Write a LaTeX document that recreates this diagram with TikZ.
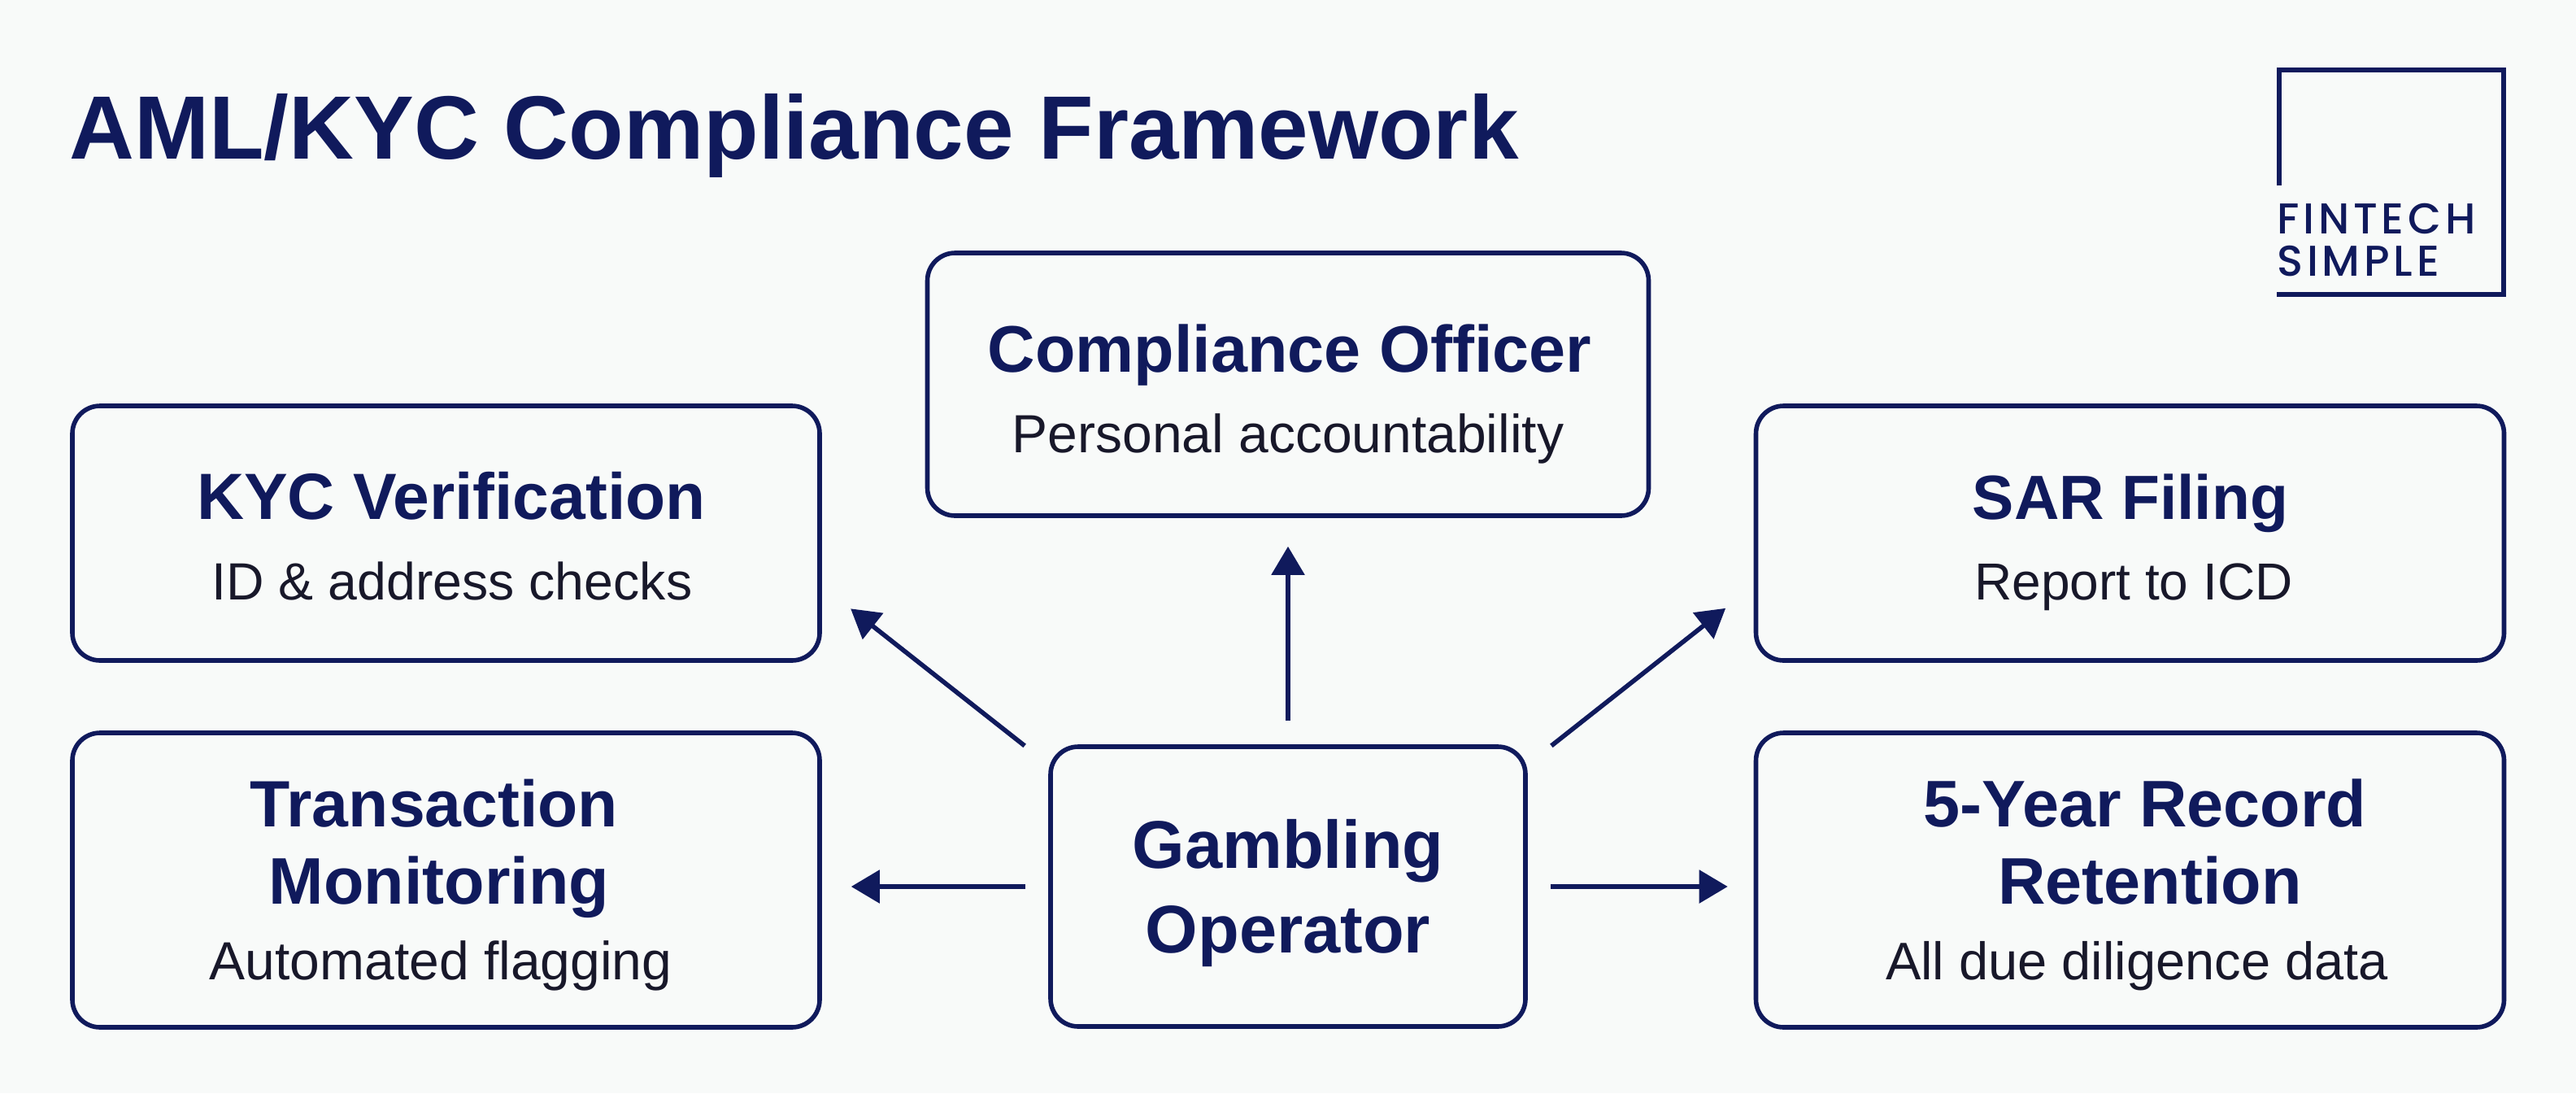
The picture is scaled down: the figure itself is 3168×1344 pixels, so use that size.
\documentclass[tikz,border=0pt]{standalone}
\usepackage{fontspec}
\setmainfont{Liberation Sans}
\newfontfamily\logofont[LetterSpace=9]{Poppins Medium}
\usetikzlibrary{arrows.meta,calc}
\definecolor{navy}{HTML}{101A5C}
\definecolor{subink}{HTML}{18182A}
\definecolor{paper}{HTML}{F8FAF9}
\tikzset{
  panel/.style={draw=navy,line width=2.8pt,rounded corners=17pt,fill=none,inner sep=0pt},
  flow/.style={draw=navy,line width=2.8pt,-{Triangle[length=17.5pt,width=20pt]}},
  lab/.style={inner sep=0pt,anchor=base,align=center,text=navy,font=\fontsize{32}{47.5}\selectfont},
}
\newcommand{\ttl}[2][40.5]{{\fontsize{#1}{47.5}\selectfont\bfseries #2}}
\newcommand{\sbt}[2][32.5]{{\color{subink}\fontsize{#1}{47.5}\selectfont #2}}
\newcommand{\nudge}[2]{\hspace*{#1pt}#2}
\begin{document}
\begin{tikzpicture}[x=0.5pt,y=-0.5pt]
\useasboundingbox[fill=paper] (0,0) rectangle (3168,1344);
\node[inner sep=0pt,anchor=base west,text=navy] (title) at (85,195) {\fontsize{55.3}{60}\selectfont\bfseries AML/KYC Compliance Framework};

\node[panel,minimum width=443.5pt,minimum height=161.5pt] (comp) at (1584,472.5) {};
\node[panel,minimum width=459.5pt,minimum height=156.5pt] (kyc) at (548.5,655.5) {};
\node[panel,minimum width=460pt,minimum height=156.5pt] (sar) at (2619.5,655.5) {};
\node[panel,minimum width=459.5pt,minimum height=181pt] (txn) at (548.5,1082) {};
\node[panel,minimum width=460pt,minimum height=181pt] (ret) at (2619.5,1082) {};
\node[panel,minimum width=292pt,minimum height=172pt] (op) at (1584,1090) {};

\node[lab] (compt) at (1584,556) {\nudge{2}{\ttl{Compliance Officer}}\\[2pt]\sbt[33]{Personal accountability}};
\node[lab] (kyct) at (555,737) {\ttl[40.2]{KYC Verification}\\[2pt]\nudge{1}{\sbt[32.2]{ID \& address checks}}};
\node[lab] (sart) at (2620,737) {\ttl[38.4]{SAR Filing}\\[2pt]\nudge{4}{\sbt[32]{Report to ICD}}};
\node[lab] (txnt) at (537,1204) {\nudge{-3}{\ttl[40.3]{Transaction}}\\\nudge{3}{\ttl{Monitoring}}\\[-1pt]\nudge{5}{\sbt[33]{Automated flagging}}};
\node[lab] (rett) at (2635,1204) {\nudge{3}{\ttl{5-Year Record}}\\\nudge{9}{\ttl{Retention}}\\[-1pt]\nudge{-7}{\sbt{All due diligence data}}};
\node[lab] (opt) at (1584,1171) {\ttl[41.5]{Gambling}\\[4.5pt]\ttl[41.5]{Operator}};

\draw[flow,shorten <=14.6pt,shorten >=17.5pt] (op.north) -- (comp.south);
\draw[flow,shorten <=18.5pt,shorten >=22.5pt] (op.153) -- (kyc.-8.9);
\draw[flow,shorten <=18.5pt,shorten >=22pt] (op.27.6) -- (sar.188.9);
\draw[flow,shorten <=14pt,shorten >=18pt] (op.west) -- (op.west -| txn.east);
\draw[flow,shorten <=14pt,shorten >=16pt] (op.east) -- (op.east -| ret.west);

\coordinate (la) at (2803,228);
\coordinate (lb) at (2803,86);
\coordinate (lc) at (3079,86);
\coordinate (ld) at (3079,362);
\coordinate (le) at (2800,362);
\draw[navy,line width=3pt,line join=miter] (la) -- (lb) -- (lc) -- (ld) -- (le);
\node[inner sep=0pt,anchor=base west,text=navy] (logoa) at (2800,287) {\logofont\fontsize{26.5}{30}\selectfont FINTECH};
\node[inner sep=0pt,anchor=base west,text=navy] (logob) at (2800,339) {\logofont\fontsize{26.5}{30}\selectfont SIMPLE};
\end{tikzpicture}
\end{document}
